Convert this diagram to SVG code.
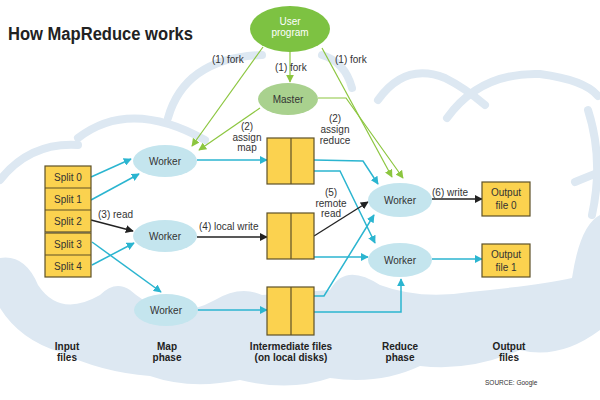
<svg xmlns="http://www.w3.org/2000/svg" width="600" height="400" viewBox="0 0 600 400">
<defs>
<style>
.t{font-family:"Liberation Sans",Arial,sans-serif;font-size:10px;fill:#333}
.c{text-anchor:middle}
.b{font-weight:bold;fill:#222}
.cloud{fill:none;stroke:#dde8f2;stroke-width:8;stroke-linecap:round}
.cy{fill:none;stroke:#2bb5d0;stroke-width:1.5}
.bk{fill:none;stroke:#222;stroke-width:1.3}
.gr{fill:none;stroke:#8cc63f;stroke-width:1.2}
.wk{fill:#c4e5ee}
.yl{fill:#fbd24f;stroke:#5e5128;stroke-width:1.2}
</style>
<marker id="ac" viewBox="0 0 10 10" refX="9" refY="5" markerWidth="8" markerHeight="8" markerUnits="userSpaceOnUse" orient="auto"><path d="M0,0 L10,5 L0,10 z" fill="#2bb5d0"/></marker>
<marker id="ab" viewBox="0 0 10 10" refX="9" refY="5" markerWidth="8" markerHeight="8" markerUnits="userSpaceOnUse" orient="auto"><path d="M0,0 L10,5 L0,10 z" fill="#222"/></marker>
<marker id="ag" viewBox="0 0 10 10" refX="9" refY="5" markerWidth="8" markerHeight="8" markerUnits="userSpaceOnUse" orient="auto"><path d="M0,0 L10,5 L0,10 z" fill="#8cc63f"/></marker>
</defs>
<rect width="600" height="400" fill="#fff"/>
<g id="background">
<path d="M0,258 Q25,254 38,285 Q60,318 100,295 Q115,280 130,290 Q170,325 215,300 Q240,285 262,295 L330,290 Q345,262 380,285 Q420,300 470,292 Q540,285 572,278 Q580,225 600,215 L600,330 Q560,360 520,350 Q470,372 420,366 Q380,385 330,378 Q290,392 240,380 Q190,390 150,376 Q100,372 60,352 Q20,340 0,308 Z" fill="#dde8f2"/>
<path class="cloud" d="M0,180 Q30,142 78,145"/>
<path class="cloud" d="M78,138 Q130,98 205,140"/>
<path class="cloud" d="M168,118 Q185,58 262,55"/>
<path class="cloud" d="M322,55 Q345,62 352,88"/>
<path class="cloud" d="M378,100 Q405,62 445,78 Q465,88 485,105"/>
<path class="cloud" d="M447,118 Q480,72 540,74 Q585,80 598,96"/>
<path class="cloud" d="M588,110 Q604,160 592,215"/>
<path class="cloud" d="M575,182 Q592,175 600,172"/>
</g>
<g id="title"><text class="t b" x="8" y="40" style="font-size:18px" textLength="185" lengthAdjust="spacingAndGlyphs">How MapReduce works</text></g>
<g id="connectors">
<path class="gr" d="M263,47 L192,146" marker-end="url(#ag)"/>
<path class="gr" d="M290,52 L290,82" marker-end="url(#ag)"/>
<path class="gr" d="M322,48 L392,177" marker-end="url(#ag)"/>
<path class="gr" d="M260,108 L199,150" marker-end="url(#ag)"/>
<path class="gr" d="M318,98 L346,98 L403,178" marker-end="url(#ag)"/>
<text class="t" x="212" y="63">(1) fork</text>
<text class="t" x="275" y="71">(1) fork</text>
<text class="t" x="335" y="63">(1) fork</text>
<text class="t c" x="247" y="130">(2)</text>
<text class="t c" x="247" y="141">assign</text>
<text class="t c" x="247" y="151">map</text>
<text class="t c" x="335" y="122">(2)</text>
<text class="t c" x="335" y="133">assign</text>
<text class="t c" x="335" y="144">reduce</text>
<path class="cy" d="M91,177 L131,159" marker-end="url(#ac)"/>
<path class="cy" d="M91,200 L139,174" marker-end="url(#ac)"/>
<path class="bk" d="M91,220 L133,231" marker-end="url(#ab)"/>
<text class="t" x="98" y="218">(3) read</text>
<path class="cy" d="M92,242 L161,292" marker-end="url(#ac)"/>
<path class="cy" d="M92,265 L134,243" marker-end="url(#ac)"/>
<path class="cy" d="M197,160 L267,160" marker-end="url(#ac)"/>
<path class="bk" d="M197,237 L267,237" marker-end="url(#ab)"/>
<text class="t" x="199" y="230">(4) local write</text>
<path class="cy" d="M197,310 L267,310" marker-end="url(#ac)"/>
<path class="cy" d="M314,160 L363,161 L378,184" marker-end="url(#ac)"/>
<path class="cy" d="M314,171 L340,171 L375,243" marker-end="url(#ac)"/>
<path class="bk" d="M314,236 L368,202" marker-end="url(#ab)"/>
<text class="t c" x="331" y="196">(5)</text>
<text class="t c" x="331" y="207">remote</text>
<text class="t c" x="331" y="217">read</text>
<path class="cy" d="M314,257 L368,257" marker-end="url(#ac)"/>
<path class="cy" d="M314,296 L324,296 L374,215" marker-end="url(#ac)"/>
<path class="cy" d="M314,312 L401,312 L401,279" marker-end="url(#ac)"/>
<path class="bk" d="M432,199 L482,199" marker-end="url(#ab)"/>
<text class="t" x="432" y="196">(6) write</text>
<path class="cy" d="M432,259 L482,259" marker-end="url(#ac)"/>
</g>
<g id="user-program"><ellipse cx="290" cy="29" rx="40" ry="23" fill="#7dc242"/><text class="t c" x="290" y="25" style="fill:#fff">User</text><text class="t c" x="290" y="36" style="fill:#fff">program</text></g>
<g id="master"><ellipse cx="288" cy="99" rx="30" ry="16" fill="#a9d18e"/><text class="t c" x="288" y="103">Master</text></g>
<g id="splits">
<rect class="yl" x="45" y="166" width="46" height="66"/>
<rect class="yl" x="45" y="233" width="46" height="44"/>
<path d="M45,188 H91 M45,210 H91 M45,255 H91" stroke="#5e5128" stroke-width="1.2"/>
<text class="t c" x="68" y="181">Split 0</text>
<text class="t c" x="68" y="203">Split 1</text>
<text class="t c" x="68" y="225">Split 2</text>
<text class="t c" x="68" y="248">Split 3</text>
<text class="t c" x="68" y="270">Split 4</text>
</g>
<g id="map-worker-1"><ellipse class="wk" cx="165" cy="161" rx="32" ry="16"/><text class="t c" x="165" y="165">Worker</text></g>
<g id="map-worker-2"><ellipse class="wk" cx="165" cy="236" rx="32" ry="16"/><text class="t c" x="165" y="240">Worker</text></g>
<g id="map-worker-3"><ellipse class="wk" cx="166" cy="310" rx="32" ry="16"/><text class="t c" x="166" y="314">Worker</text></g>
<g id="intermediate-1"><rect class="yl" x="267" y="138" width="47" height="46"/><path d="M291,138 V184" stroke="#5e5128" stroke-width="1.2"/></g>
<g id="intermediate-2"><rect class="yl" x="267" y="213" width="47" height="46"/><path d="M291,213 V259" stroke="#5e5128" stroke-width="1.2"/></g>
<g id="intermediate-3"><rect class="yl" x="267" y="287" width="47" height="48"/><path d="M291,287 V335" stroke="#5e5128" stroke-width="1.2"/></g>
<g id="reduce-worker-1"><ellipse class="wk" cx="400" cy="200" rx="32" ry="17"/><text class="t c" x="400" y="204">Worker</text></g>
<g id="reduce-worker-2"><ellipse class="wk" cx="400" cy="260" rx="32" ry="17"/><text class="t c" x="400" y="264">Worker</text></g>
<g id="output-0"><rect class="yl" x="482" y="182" width="48" height="34"/><text class="t c" x="506" y="196">Output</text><text class="t c" x="506" y="209">file 0</text></g>
<g id="output-1"><rect class="yl" x="482" y="244" width="48" height="33"/><text class="t c" x="506" y="258">Output</text><text class="t c" x="506" y="271">file 1</text></g>
<g id="phase-labels">
<text class="t c b" x="67" y="350">Input</text><text class="t c b" x="67" y="361">files</text>
<text class="t c b" x="167" y="350">Map</text><text class="t c b" x="167" y="361">phase</text>
<text class="t c b" x="291" y="350">Intermediate files</text><text class="t c b" x="291" y="361">(on local disks)</text>
<text class="t c b" x="400" y="350">Reduce</text><text class="t c b" x="400" y="361">phase</text>
<text class="t c b" x="509" y="350">Output</text><text class="t c b" x="509" y="361">files</text>
</g>
<text class="t" x="485" y="385" style="font-size:6.5px">SOURCE: Google</text>
</svg>
